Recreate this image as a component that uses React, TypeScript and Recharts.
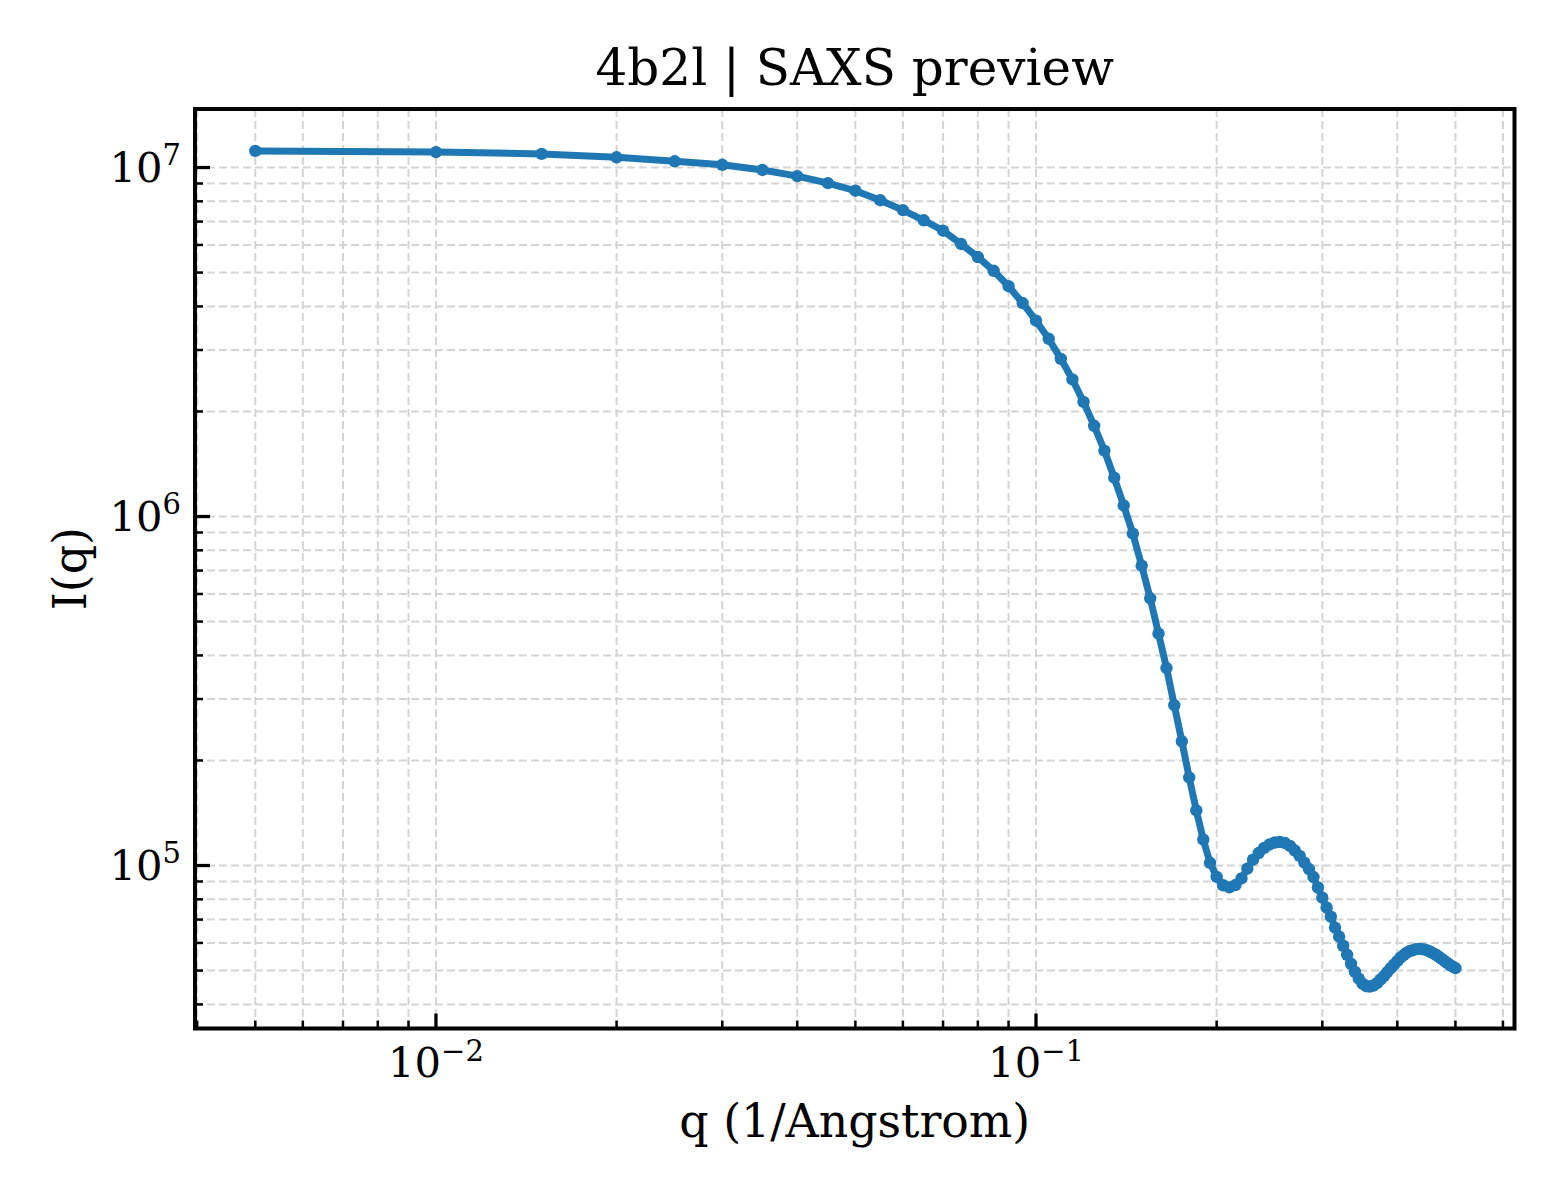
import React from 'react';
import { LineChart, Line, XAxis, YAxis, CartesianGrid, ReferenceArea } from 'recharts';

// scattering vector q (1/Angstrom)
const qValues = [
  0.005, 0.01, 0.015, 0.02, 0.025, 0.03, 0.035, 0.04, 0.045, 0.05,
  0.055, 0.06, 0.065, 0.07, 0.075, 0.08, 0.085, 0.09, 0.095, 0.1,
  0.105, 0.11, 0.115, 0.12, 0.125, 0.13, 0.135, 0.14, 0.145, 0.15,
  0.155, 0.16, 0.165, 0.17, 0.175, 0.18, 0.185, 0.19, 0.195, 0.2,
  0.205, 0.21, 0.215, 0.22, 0.225, 0.23, 0.235, 0.24, 0.245, 0.25,
  0.255, 0.26, 0.265, 0.27, 0.275, 0.28, 0.285, 0.29, 0.295, 0.3,
  0.305, 0.31, 0.315, 0.32, 0.325, 0.33, 0.335, 0.34, 0.345, 0.35,
  0.355, 0.36, 0.365, 0.37, 0.375, 0.38, 0.385, 0.39, 0.395, 0.4,
  0.405, 0.41, 0.415, 0.42, 0.425, 0.43, 0.435, 0.44, 0.445, 0.45,
  0.455, 0.46, 0.465, 0.47, 0.475, 0.48, 0.485, 0.49, 0.495, 0.5,
];

// intensity I(q)
const intensity = [
  1.116e7, 1.107e7, 1.094e7, 1.07e7, 1.042e7, 1.018e7, 9.84e6, 9.45e6, 9.02e6, 8.58e6,
  8.06e6, 7.55e6, 7.06e6, 6.59e6, 6.04e6, 5.54e6, 5.06e6, 4.57e6, 4.09e6, 3.64e6,
  3.23e6, 2.83e6, 2.47e6, 2.13e6, 1.82e6, 1.545e6, 1.292e6, 1.076e6, 8.93e5, 7.23e5,
  5.83e5, 4.62e5, 3.68e5, 2.88e5, 2.27e5, 1.789e5, 1.438e5, 1.187e5, 1.018e5, 9.28e4,
  8.78e4, 8.66e4, 8.79e4, 9.18e4, 9.8e4, 1.04e5, 1.086e5, 1.123e5, 1.149e5, 1.164e5,
  1.168e5, 1.16e5, 1.138e5, 1.104e5, 1.065e5, 1.02e5, 9.77e4, 9.27e4, 8.65e4, 8.09e4,
  7.58e4, 7.14e4, 6.64e4, 6.26e4, 5.89e4, 5.55e4, 5.23e4, 4.96e4, 4.74e4, 4.59e4,
  4.51e4, 4.5e4, 4.53e4, 4.6e4, 4.71e4, 4.82e4, 4.95e4, 5.08e4, 5.2e4, 5.32e4,
  5.45e4, 5.54e4, 5.63e4, 5.69e4, 5.72e4, 5.76e4, 5.77e4, 5.76e4, 5.74e4, 5.7e4,
  5.65e4, 5.59e4, 5.54e4, 5.46e4, 5.39e4, 5.32e4, 5.25e4, 5.18e4, 5.13e4, 5.08e4,
];

const xTicks = [
  0.004, 0.005, 0.006, 0.007, 0.008, 0.009, 0.01,
  0.02, 0.03, 0.04, 0.05, 0.06, 0.07, 0.08, 0.09, 0.1,
  0.2, 0.3, 0.4, 0.5, 0.6,
];

const yTicks = [
  4e4, 5e4, 6e4, 7e4, 8e4, 9e4, 1e5,
  2e5, 3e5, 4e5, 5e5, 6e5, 7e5, 8e5, 9e5, 1e6,
  2e6, 3e6, 4e6, 5e6, 6e6, 7e6, 8e6, 9e6, 1e7,
];

const xDomain = [0.003967, 0.6272];
const yDomain = [34120, 1.4713e7];

const data = qValues.map((q, i) => ({ q, I: intensity[i] }));

const W = 1560;
const H = 1200;
const PLOT_LEFT = 195;
const PLOT_RIGHT = 1514.5;
const PLOT_TOP = 109;
const PLOT_BOTTOM = 1028.5;
const FONT = '"DejaVu Serif", serif';
const BLUE = '#1f77b4';

const isMajor = (v: number) => Math.abs(Math.log10(v) - Math.round(Math.log10(v))) < 1e-9;
const expText = (v: number) => {
  const e = Math.round(Math.log10(v));
  return e < 0 ? '\u2212' + Math.abs(e) : String(e);
};

const XTick = (props: any) => {
  const { x, payload } = props;
  const v = payload.value;
  const major = isMajor(v);
  const len = major ? 15 : 8;
  return (
    <g>
      <line x1={x} x2={x} y1={PLOT_BOTTOM} y2={PLOT_BOTTOM - len} stroke="#000" strokeWidth={major ? 3.3 : 2.5} />
      {major && (
        <text x={x} y={1077} textAnchor="middle" fontFamily={FONT} fontSize={41.7} fill="#000">
          10<tspan dy={-16} fontSize={29}>{expText(v)}</tspan>
        </text>
      )}
    </g>
  );
};

const YTick = (props: any) => {
  const { y, payload } = props;
  const v = payload.value;
  const major = isMajor(v);
  const len = major ? 15 : 8;
  return (
    <g>
      <line x1={PLOT_LEFT} x2={PLOT_LEFT + len} y1={y} y2={y} stroke="#000" strokeWidth={major ? 3.3 : 2.5} />
      {major && (
        <text x={181} y={y + 14} textAnchor="end" fontFamily={FONT} fontSize={41.7} fill="#000">
          10<tspan dy={-17} fontSize={29}>{expText(v)}</tspan>
        </text>
      )}
    </g>
  );
};

export default function App() {
  return (
    <div style={{ position: 'absolute', left: 0, top: 0, width: W, height: H, background: '#fff' }}>
      <LineChart
        width={W}
        height={H}
        data={data}
        margin={{ top: PLOT_TOP, right: W - PLOT_RIGHT, left: PLOT_LEFT - 100, bottom: H - PLOT_BOTTOM - 100 }}
      >
        <CartesianGrid stroke="#d4d4d4" strokeWidth={2} strokeDasharray="8 4" />
        <XAxis
          dataKey="q"
          type="number"
          scale="log"
          domain={xDomain}
          allowDataOverflow
          ticks={xTicks}
          interval={0}
          height={100}
          axisLine={false}
          tickLine={false}
          tick={<XTick />}
        />
        <YAxis
          type="number"
          scale="log"
          domain={yDomain}
          allowDataOverflow
          ticks={yTicks}
          interval={0}
          width={100}
          axisLine={false}
          tickLine={false}
          tick={<YTick />}
        />
        <ReferenceArea
          x1={xDomain[0]}
          x2={xDomain[1]}
          y1={yDomain[0]}
          y2={yDomain[1]}
          fill="none"
          fillOpacity={0}
          stroke="#000"
          strokeWidth={4}
          ifOverflow="visible"
        />
        <Line
          dataKey="I"
          type="linear"
          stroke={BLUE}
          strokeWidth={7}
          dot={{ r: 6.2, fill: BLUE, stroke: BLUE, strokeWidth: 0 }}
          activeDot={false}
          isAnimationActive={false}
        />
      </LineChart>
      <svg width={W} height={H} style={{ position: 'absolute', left: 0, top: 0, pointerEvents: 'none' }}>
        <text x={(PLOT_LEFT + PLOT_RIGHT) / 2} y={85} textAnchor="middle" fontFamily={FONT} fontSize={50} fill="#000">
          4b2l | SAXS preview
        </text>
        <text x={(PLOT_LEFT + PLOT_RIGHT) / 2} y={1137} textAnchor="middle" fontFamily={FONT} fontSize={45.8} fill="#000">
          q (1/Angstrom)
        </text>
        <text
          x={86}
          y={(PLOT_TOP + PLOT_BOTTOM) / 2}
          textAnchor="middle"
          fontFamily={FONT}
          fontSize={45.8}
          fill="#000"
          transform={`rotate(-90 86 ${(PLOT_TOP + PLOT_BOTTOM) / 2})`}
        >
          I(q)
        </text>
      </svg>
    </div>
  );
}
